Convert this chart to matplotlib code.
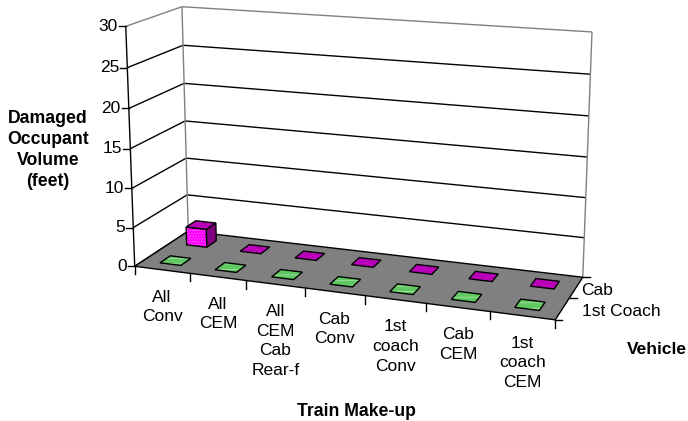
import numpy as np
import matplotlib
matplotlib.use('Agg')
import matplotlib.pyplot as plt
from matplotlib.patches import Polygon

plt.rcParams['font.family'] = ['Liberation Sans', 'DejaVu Sans']
plt.rcParams['hatch.linewidth'] = 0.5

categories = ['All\nConv', 'All\nCEM', 'All\nCEM\nCab\nRear-f', 'Cab\nConv',
              '1st\ncoach\nConv', 'Cab\nCEM', '1st\ncoach\nCEM']
series_names = ['1st Coach', 'Cab']
coach_values = [0, 0, 0, 0, 0, 0, 0]
cab_values = [2.4, 0, 0, 0, 0, 0, 0]
y_ticks = [0, 5, 10, 15, 20, 25, 30]

W, H = 688, 421
# box corners on the canvas: (category, series, value) -> pixel
box_world = [(0, 0, 0), (0, 2, 0), (7, 2, 0), (7, 0, 0),
             (0, 0, 30), (0, 2, 30), (7, 2, 30)]
box_px = [(135, 266.5), (188, 231), (583, 277), (555, 320),
          (125.7, 26), (182, 7), (592, 32)]


def fit_camera(world, px):
    rows = []
    for (a, b, c), (u, v) in zip(world, px):
        p = [a, b, c, 1]
        rows.append(p + [0, 0, 0, 0] + [-u * q for q in p])
        rows.append([0, 0, 0, 0] + p + [-v * q for q in p])
    return np.linalg.svd(np.array(rows))[2][-1].reshape(3, 4)


CAM = fit_camera(box_world, box_px)


def proj(cat, ser, val):
    u, v, w = CAM @ np.array([cat, ser, val, 1.0])
    return u / w, v / w


def line3d(ax, start, end, color='black', lw=1.0, z=1):
    a, b = proj(*start), proj(*end)
    ax.plot([a[0], b[0]], [a[1], b[1]], color=color, lw=lw, zorder=z,
            solid_capstyle='butt')


def face(ax, pts, color, z, hatch=None, hatch_color='white'):
    xy = [proj(*p) for p in pts]
    ax.add_patch(Polygon(xy, closed=True, facecolor=color, edgecolor='none', zorder=z))
    if hatch:
        ax.add_patch(Polygon(xy, closed=True, facecolor='none', edgecolor=hatch_color,
                             hatch=hatch, lw=0, zorder=z))
    ax.add_patch(Polygon(xy, closed=True, facecolor='none', edgecolor='black', lw=1.0, zorder=z))


def draw_bar(ax, cat, ser, val, top, front, side, hatch_top, hatch_col):
    x0, x1 = cat + 0.31, cat + 0.69
    s0, s1 = ser + 0.30, ser + 0.68
    z = 5 + (1 - ser)
    if val > 0:
        face(ax, [(x0, s0, 0), (x1, s0, 0), (x1, s0, val), (x0, s0, val)], front, z,
             hatch='......', hatch_color='#ff66ff')
        face(ax, [(x1, s0, 0), (x1, s1, 0), (x1, s1, val), (x1, s0, val)], side, z)
    face(ax, [(x0, s0, val), (x1, s0, val), (x1, s1, val), (x0, s1, val)], top, z,
         hatch=hatch_top, hatch_color=hatch_col)


fig = plt.figure(figsize=(W / 100, H / 100), dpi=100)
ax = fig.add_axes([0, 0, 1, 1])
ax.set_xlim(0, W)
ax.set_ylim(H, 0)
ax.axis('off')

# floor
face(ax, [(0, 0, 0), (0, 2, 0), (7, 2, 0), (7, 0, 0)], '#808080', 2)

# walls and gridlines
for t in y_ticks:
    edge = '#808080' if t == 30 else 'black'
    line3d(ax, (0, 0, t), (0, 2, t), color=edge)
    if t > 0:
        line3d(ax, (0, 2, t), (7, 2, t), color=edge)
line3d(ax, (0, 2, 0), (0, 2, 30), color='#808080')
line3d(ax, (7, 2, 0), (7, 2, 30), color='#808080')
line3d(ax, (0, 0, 0), (0, 0, 30), color='black', z=3)

# value axis
for t in y_ticks:
    x, y = proj(0, 0, t)
    ax.plot([x - 7, x], [y, y], color='black', lw=1.0)
    ax.text(x - 8, y, str(t), ha='right', va='center', fontsize=12.5)

# category axis
for i in range(8):
    x, y = proj(i, 0, 0)
    ax.plot([x, x], [y, y + 8], color='black', lw=1.0, zorder=3)
for i, name in enumerate(categories):
    x, y = proj(i + 0.5, 0, 0)
    ax.text(x, y + 20, name, ha='center', va='top', fontsize=12.5, linespacing=1.38)

# series axis
for j in range(3):
    x, y = proj(7, j, 0)
    ax.plot([x, x + 7], [y, y], color='black', lw=1.0, zorder=3)
for j, name in enumerate(series_names):
    x, y = proj(7, j + 0.5, 0)
    if j == 0:
        ax.text(x + 19, y + 3, name, ha='left', va='center', fontsize=12.5)
    else:
        ax.text(x + 5, y + 3, name, ha='left', va='center', fontsize=12.5)

# bars, back row first
for i, v in enumerate(cab_values):
    draw_bar(ax, i, 1, v, '#c000c0', '#ff00ff', '#800080', '.......', '#a000a0')
for i, v in enumerate(coach_values):
    draw_bar(ax, i, 0, v, '#60c860', '#60c860', '#339933', '---', '#b0e4b0')

ax.text(48, 150, 'Damaged\nOccupant\nVolume\n(feet)', ha='center', va='center',
        fontsize=12.7, fontweight='bold', linespacing=1.32)
ax.text(356, 411, 'Train Make-up', ha='center', va='center', fontsize=12.7, fontweight='bold')
ax.text(687, 349, 'Vehicle', ha='right', va='center', fontsize=12.5, fontweight='bold')

fig.savefig('out.png', dpi=100)
